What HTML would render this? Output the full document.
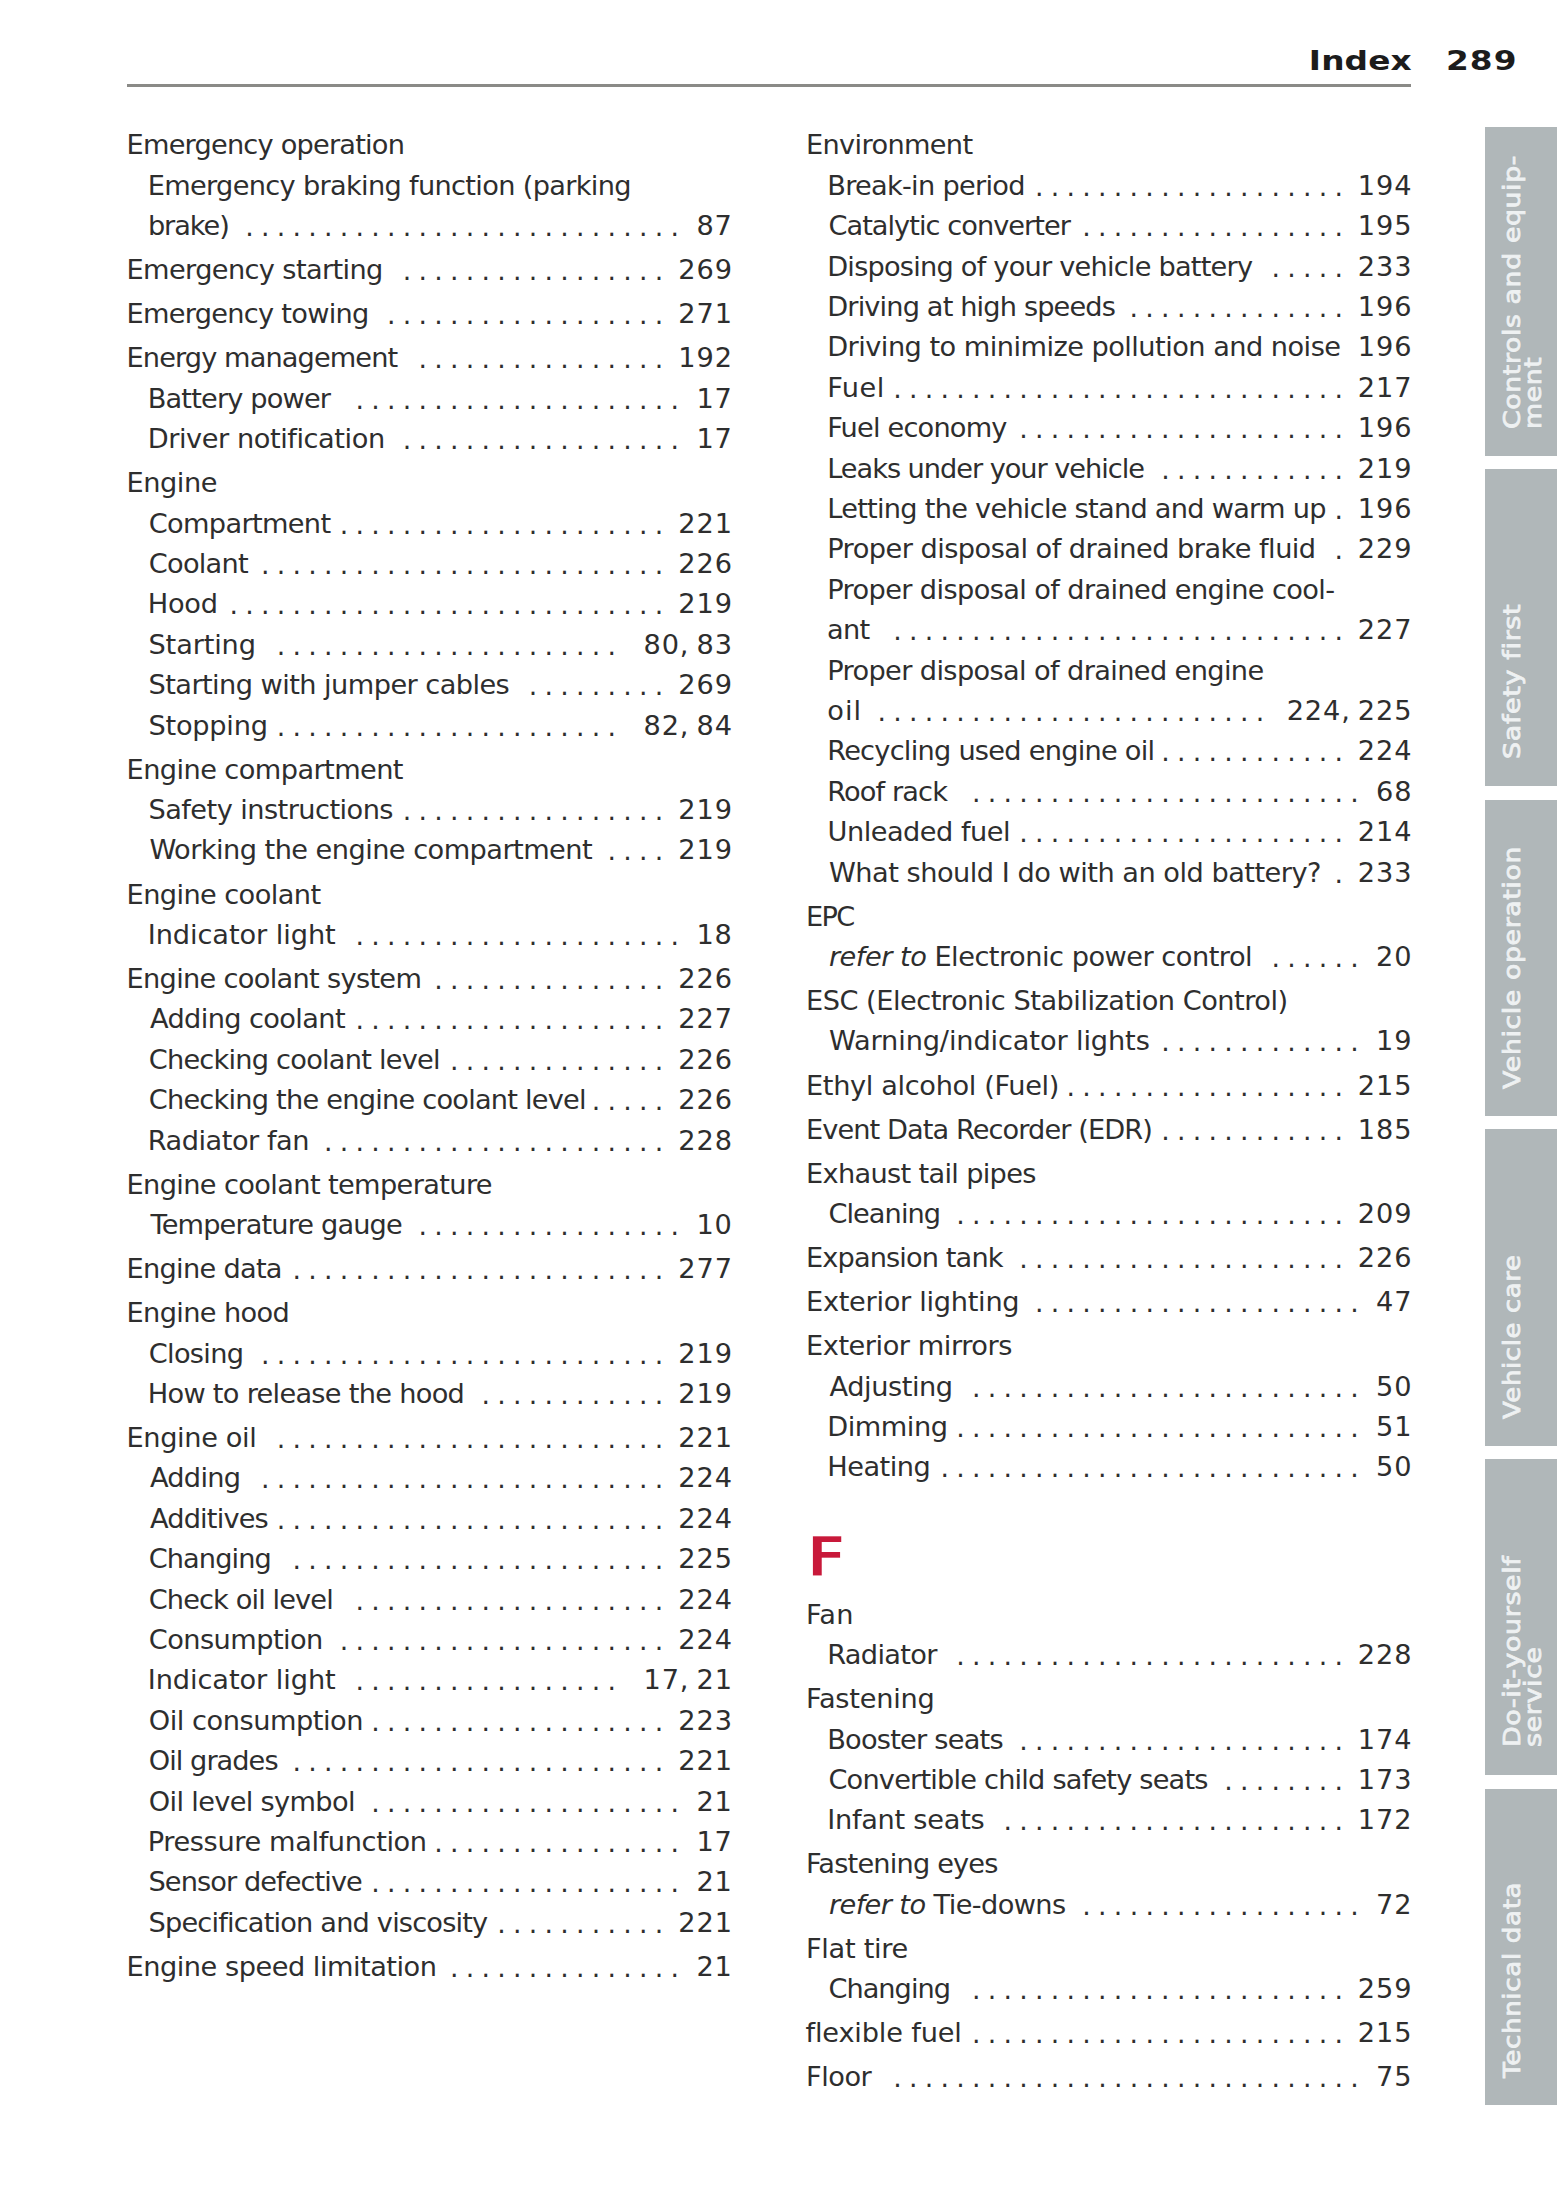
<!DOCTYPE html>
<html lang="en"><head><meta charset="utf-8"><title>Index 289</title>
<style>
html,body{margin:0;padding:0;background:#fff}
body{width:1557px;height:2208px;position:relative;overflow:hidden;font-family:"DejaVu Sans","Liberation Sans",sans-serif;color:#2e2e2e}
.r{position:absolute;height:40px;line-height:40px;font-size:27.2px;white-space:nowrap}
.l{display:inline-block}
.l i{font-style:italic}
.d{position:absolute;top:1px;letter-spacing:-0.625px;font-size:26.75px;-webkit-text-stroke:0}
.n{position:absolute;top:0;right:-2.85px;letter-spacing:0.9px;word-spacing:-2.5px}
.h{position:absolute;font-weight:bold;font-size:57px;line-height:60px;color:#c8193a;-webkit-text-stroke:2.4px #fff}
.hd{position:absolute;font-weight:bold;font-size:27.3px;line-height:34px;white-space:nowrap;color:#1c1c1c}
.rule{position:absolute;left:127px;top:84px;width:1284px;height:3px;background:#8a8a87}
.tab{position:absolute;left:1484.8px;width:73px;background:#b0b7b9}
.tt{position:absolute;transform-origin:0 0;transform:rotate(-90deg) scaleX(1.15);white-space:nowrap;font-size:23.4px;line-height:20.7px;color:#eef1f2;-webkit-text-stroke:0.8px #eef1f2;letter-spacing:0.55px}
</style></head><body>
<div class="hd" id="hidx" style="right:145.5px;top:43.7px;transform-origin:100% 50%;transform:scaleX(1.2);letter-spacing:0.1px">Index</div>
<div class="hd" id="hnum" style="left:1445.5px;top:43.7px;transform-origin:0 50%;transform:scaleX(1.2);letter-spacing:0.9px">289</div>
<div class="rule"></div>
<div class="tab" style="top:127.0px;height:329.0px"></div>
<div class="tt" style="left:1502.3px;top:428.8px;transform:rotate(-90deg) scaleX(1.142)">Controls and equip-<br>ment</div>
<div class="tab" style="top:469.0px;height:317.0px"></div>
<div class="tt" style="left:1502.3px;top:758.9px;transform:rotate(-90deg) scaleX(1.154)">Safety first</div>
<div class="tab" style="top:800.0px;height:315.5px"></div>
<div class="tt" style="left:1502.3px;top:1088.9px;transform:rotate(-90deg) scaleX(1.142)">Vehicle operation</div>
<div class="tab" style="top:1129.0px;height:316.5px"></div>
<div class="tt" style="left:1502.3px;top:1418.8px;transform:rotate(-90deg) scaleX(1.109)">Vehicle care</div>
<div class="tab" style="top:1459.0px;height:316.0px"></div>
<div class="tt" style="left:1502.3px;top:1747.0px;transform:rotate(-90deg) scaleX(1.15)">Do-it-yourself<br>service</div>
<div class="tab" style="top:1789.0px;height:316.0px"></div>
<div class="tt" style="left:1502.3px;top:2077.9px;transform:rotate(-90deg) scaleX(1.12)">Technical data</div>
<div class="r" style="left:126.2px;top:125.35px;width:603.8px"><span class="l" id="L0" style="letter-spacing:-0.787px;margin-left:0.36px">Emergency operation</span></div>
<div class="r" style="left:147.4px;top:165.75px;width:582.6px"><span class="l" id="L1" style="letter-spacing:-0.675px;margin-left:0.34px">Emergency braking function (parking</span></div>
<div class="r" style="left:147.4px;top:206.15px;width:582.6px"><span class="l" id="L2" style="letter-spacing:-1.044px;margin-left:0.50px">brake)</span><span class="d" style="right:51.49px">. . . . . . . . . . . . . . . . . . . . . . . . . . . .</span><span class="n">87</span></div>
<div class="r" style="left:126.2px;top:250.21px;width:603.8px"><span class="l" id="L3" style="letter-spacing:-0.619px;margin-left:0.36px">Emergency starting</span><span class="d" style="right:67.25px">. . . . . . . . . . . . . . . . .</span><span class="n">269</span></div>
<div class="r" style="left:126.2px;top:294.27px;width:603.8px"><span class="l" id="L4" style="letter-spacing:-0.720px;margin-left:0.36px">Emergency towing</span><span class="d" style="right:67.25px">. . . . . . . . . . . . . . . . . .</span><span class="n">271</span></div>
<div class="r" style="left:126.2px;top:338.33px;width:603.8px"><span class="l" id="L5" style="letter-spacing:-0.895px;margin-left:0.36px">Energy management</span><span class="d" style="right:67.25px">. . . . . . . . . . . . . . . .</span><span class="n">192</span></div>
<div class="r" style="left:147.4px;top:378.73px;width:582.6px"><span class="l" id="L6" style="letter-spacing:-0.837px;margin-left:0.35px">Battery power</span><span class="d" style="right:51.49px">. . . . . . . . . . . . . . . . . . . . .</span><span class="n">17</span></div>
<div class="r" style="left:147.4px;top:419.13px;width:582.6px"><span class="l" id="L7" style="letter-spacing:-0.434px;margin-left:0.35px">Driver notification</span><span class="d" style="right:51.49px">. . . . . . . . . . . . . . . . . .</span><span class="n">17</span></div>
<div class="r" style="left:126.2px;top:463.19px;width:603.8px"><span class="l" id="L8" style="letter-spacing:-0.450px;margin-left:0.36px">Engine</span></div>
<div class="r" style="left:147.4px;top:503.59px;width:582.6px"><span class="l" id="L9" style="letter-spacing:-0.660px;margin-left:1.32px">Compartment</span><span class="d" style="right:67.25px">. . . . . . . . . . . . . . . . . . . . .</span><span class="n">221</span></div>
<div class="r" style="left:147.4px;top:543.99px;width:582.6px"><span class="l" id="L10" style="letter-spacing:-0.721px;margin-left:1.32px">Coolant</span><span class="d" style="right:67.25px">. . . . . . . . . . . . . . . . . . . . . . . . . .</span><span class="n">226</span></div>
<div class="r" style="left:147.4px;top:584.39px;width:582.6px"><span class="l" id="L11" style="letter-spacing:-0.231px;margin-left:0.34px">Hood</span><span class="d" style="right:67.25px">. . . . . . . . . . . . . . . . . . . . . . . . . . . .</span><span class="n">219</span></div>
<div class="r" style="left:147.4px;top:624.79px;width:582.6px"><span class="l" id="L12" style="letter-spacing:-0.145px;margin-left:1.11px">Starting</span><span class="d" style="right:114.53px">. . . . . . . . . . . . . . . . . . . . . .</span><span class="n">80, 83</span></div>
<div class="r" style="left:147.4px;top:665.19px;width:582.6px"><span class="l" id="L13" style="letter-spacing:-0.559px;margin-left:1.11px">Starting with jumper cables</span><span class="d" style="right:67.25px">. . . . . . . . .</span><span class="n">269</span></div>
<div class="r" style="left:147.4px;top:705.59px;width:582.6px"><span class="l" id="L14" style="letter-spacing:-0.239px;margin-left:1.11px">Stopping</span><span class="d" style="right:114.53px">. . . . . . . . . . . . . . . . . . . . . .</span><span class="n">82, 84</span></div>
<div class="r" style="left:126.2px;top:749.65px;width:603.8px"><span class="l" id="L15" style="letter-spacing:-0.574px;margin-left:0.36px">Engine compartment</span></div>
<div class="r" style="left:147.4px;top:790.05px;width:582.6px"><span class="l" id="L16" style="letter-spacing:-0.546px;margin-left:1.11px">Safety instructions</span><span class="d" style="right:67.25px">. . . . . . . . . . . . . . . . .</span><span class="n">219</span></div>
<div class="r" style="left:147.4px;top:830.45px;width:582.6px"><span class="l" id="L17" style="letter-spacing:-0.547px;margin-left:1.99px">Working the engine compartment</span><span class="d" style="right:67.25px">. . . .</span><span class="n">219</span></div>
<div class="r" style="left:126.2px;top:874.51px;width:603.8px"><span class="l" id="L18" style="letter-spacing:-0.587px;margin-left:0.36px">Engine coolant</span></div>
<div class="r" style="left:147.4px;top:914.91px;width:582.6px"><span class="l" id="L19" style="letter-spacing:-0.071px;margin-left:0.31px">Indicator light</span><span class="d" style="right:51.49px">. . . . . . . . . . . . . . . . . . . . .</span><span class="n">18</span></div>
<div class="r" style="left:126.2px;top:958.97px;width:603.8px"><span class="l" id="L20" style="letter-spacing:-0.687px;margin-left:0.36px">Engine coolant system</span><span class="d" style="right:67.25px">. . . . . . . . . . . . . . .</span><span class="n">226</span></div>
<div class="r" style="left:147.4px;top:999.37px;width:582.6px"><span class="l" id="L21" style="letter-spacing:-0.608px;margin-left:2.49px">Adding coolant</span><span class="d" style="right:67.25px">. . . . . . . . . . . . . . . . . . . .</span><span class="n">227</span></div>
<div class="r" style="left:147.4px;top:1039.77px;width:582.6px"><span class="l" id="L22" style="letter-spacing:-0.770px;margin-left:1.32px">Checking coolant level</span><span class="d" style="right:67.25px">. . . . . . . . . . . . . .</span><span class="n">226</span></div>
<div class="r" style="left:147.4px;top:1080.17px;width:582.6px"><span class="l" id="L23" style="letter-spacing:-0.770px;margin-left:1.32px">Checking the engine coolant level</span><span class="d" style="right:67.25px">. . . . .</span><span class="n">226</span></div>
<div class="r" style="left:147.4px;top:1120.57px;width:582.6px"><span class="l" id="L24" style="letter-spacing:-0.478px;margin-left:0.35px">Radiator fan</span><span class="d" style="right:67.25px">. . . . . . . . . . . . . . . . . . . . . .</span><span class="n">228</span></div>
<div class="r" style="left:126.2px;top:1164.63px;width:603.8px"><span class="l" id="L25" style="letter-spacing:-0.625px;margin-left:0.36px">Engine coolant temperature</span></div>
<div class="r" style="left:147.4px;top:1205.03px;width:582.6px"><span class="l" id="L26" style="letter-spacing:-0.867px;margin-left:3.17px">Temperature gauge</span><span class="d" style="right:51.49px">. . . . . . . . . . . . . . . . .</span><span class="n">10</span></div>
<div class="r" style="left:126.2px;top:1249.09px;width:603.8px"><span class="l" id="L27" style="letter-spacing:-0.708px;margin-left:0.36px">Engine data</span><span class="d" style="right:67.25px">. . . . . . . . . . . . . . . . . . . . . . . .</span><span class="n">277</span></div>
<div class="r" style="left:126.2px;top:1293.15px;width:603.8px"><span class="l" id="L28" style="letter-spacing:-0.641px;margin-left:0.36px">Engine hood</span></div>
<div class="r" style="left:147.4px;top:1333.55px;width:582.6px"><span class="l" id="L29" style="letter-spacing:-0.677px;margin-left:1.32px">Closing</span><span class="d" style="right:67.25px">. . . . . . . . . . . . . . . . . . . . . . . . . .</span><span class="n">219</span></div>
<div class="r" style="left:147.4px;top:1373.95px;width:582.6px"><span class="l" id="L30" style="letter-spacing:-0.707px;margin-left:0.34px">How to release the hood</span><span class="d" style="right:67.25px">. . . . . . . . . . . .</span><span class="n">219</span></div>
<div class="r" style="left:126.2px;top:1418.01px;width:603.8px"><span class="l" id="L31" style="letter-spacing:-0.371px;margin-left:0.36px">Engine oil</span><span class="d" style="right:67.25px">. . . . . . . . . . . . . . . . . . . . . . . . .</span><span class="n">221</span></div>
<div class="r" style="left:147.4px;top:1458.41px;width:582.6px"><span class="l" id="L32" style="letter-spacing:-0.701px;margin-left:2.49px">Adding</span><span class="d" style="right:67.25px">. . . . . . . . . . . . . . . . . . . . . . . . . .</span><span class="n">224</span></div>
<div class="r" style="left:147.4px;top:1498.81px;width:582.6px"><span class="l" id="L33" style="letter-spacing:-0.814px;margin-left:2.49px">Additives</span><span class="d" style="right:67.25px">. . . . . . . . . . . . . . . . . . . . . . . . .</span><span class="n">224</span></div>
<div class="r" style="left:147.4px;top:1539.21px;width:582.6px"><span class="l" id="L34" style="letter-spacing:-0.904px;margin-left:1.32px">Changing</span><span class="d" style="right:67.25px">. . . . . . . . . . . . . . . . . . . . . . . .</span><span class="n">225</span></div>
<div class="r" style="left:147.4px;top:1579.61px;width:582.6px"><span class="l" id="L35" style="letter-spacing:-0.877px;margin-left:1.32px">Check oil level</span><span class="d" style="right:67.25px">. . . . . . . . . . . . . . . . . . . .</span><span class="n">224</span></div>
<div class="r" style="left:147.4px;top:1620.01px;width:582.6px"><span class="l" id="L36" style="letter-spacing:-0.542px;margin-left:1.32px">Consumption</span><span class="d" style="right:67.25px">. . . . . . . . . . . . . . . . . . . . .</span><span class="n">224</span></div>
<div class="r" style="left:147.4px;top:1660.41px;width:582.6px"><span class="l" id="L37" style="letter-spacing:-0.071px;margin-left:0.31px">Indicator light</span><span class="d" style="right:114.53px">. . . . . . . . . . . . . . . . .</span><span class="n">17, 21</span></div>
<div class="r" style="left:147.4px;top:1700.81px;width:582.6px"><span class="l" id="L38" style="letter-spacing:-0.468px;margin-left:1.37px">Oil consumption</span><span class="d" style="right:67.25px">. . . . . . . . . . . . . . . . . . .</span><span class="n">223</span></div>
<div class="r" style="left:147.4px;top:1741.21px;width:582.6px"><span class="l" id="L39" style="letter-spacing:-0.954px;margin-left:1.37px">Oil grades</span><span class="d" style="right:67.25px">. . . . . . . . . . . . . . . . . . . . . . . .</span><span class="n">221</span></div>
<div class="r" style="left:147.4px;top:1781.61px;width:582.6px"><span class="l" id="L40" style="letter-spacing:-0.660px;margin-left:1.37px">Oil level symbol</span><span class="d" style="right:51.49px">. . . . . . . . . . . . . . . . . . . .</span><span class="n">21</span></div>
<div class="r" style="left:147.4px;top:1822.01px;width:582.6px"><span class="l" id="L41" style="letter-spacing:-0.376px;margin-left:0.35px">Pressure malfunction</span><span class="d" style="right:51.49px">. . . . . . . . . . . . . . . .</span><span class="n">17</span></div>
<div class="r" style="left:147.4px;top:1862.41px;width:582.6px"><span class="l" id="L42" style="letter-spacing:-0.918px;margin-left:1.11px">Sensor defective</span><span class="d" style="right:51.49px">. . . . . . . . . . . . . . . . . . . .</span><span class="n">21</span></div>
<div class="r" style="left:147.4px;top:1902.81px;width:582.6px"><span class="l" id="L43" style="letter-spacing:-0.813px;margin-left:1.11px">Specification and viscosity</span><span class="d" style="right:67.25px">. . . . . . . . . . .</span><span class="n">221</span></div>
<div class="r" style="left:126.2px;top:1946.87px;width:603.8px"><span class="l" id="L44" style="letter-spacing:-0.486px;margin-left:0.36px">Engine speed limitation</span><span class="d" style="right:51.49px">. . . . . . . . . . . . . . .</span><span class="n">21</span></div>
<div class="r" style="left:805.5px;top:125.35px;width:604.1px"><span class="l" id="R0" style="letter-spacing:-0.650px;margin-left:0.53px">Environment</span></div>
<div class="r" style="left:826.7px;top:165.75px;width:582.9px"><span class="l" id="R1" style="letter-spacing:-0.714px;margin-left:0.54px">Break-in period</span><span class="d" style="right:67.25px">. . . . . . . . . . . . . . . . . . . .</span><span class="n">194</span></div>
<div class="r" style="left:826.7px;top:206.15px;width:582.9px"><span class="l" id="R2" style="letter-spacing:-0.960px;margin-left:1.72px">Catalytic converter</span><span class="d" style="right:67.25px">. . . . . . . . . . . . . . . . .</span><span class="n">195</span></div>
<div class="r" style="left:826.7px;top:246.55px;width:582.9px"><span class="l" id="R3" style="letter-spacing:-0.779px;margin-left:0.54px">Disposing of your vehicle battery</span><span class="d" style="right:67.25px">. . . . .</span><span class="n">233</span></div>
<div class="r" style="left:826.7px;top:286.95px;width:582.9px"><span class="l" id="R4" style="letter-spacing:-0.853px;margin-left:0.54px">Driving at high speeds</span><span class="d" style="right:67.25px">. . . . . . . . . . . . . .</span><span class="n">196</span></div>
<div class="r" style="left:826.7px;top:327.35px;width:582.9px"><span class="l" id="R5" style="letter-spacing:-0.530px;margin-left:0.54px">Driving to minimize pollution and noise</span><span class="n">196</span></div>
<div class="r" style="left:826.7px;top:367.75px;width:582.9px"><span class="l" id="R6" style="letter-spacing:0.435px;margin-left:0.54px">Fuel</span><span class="d" style="right:67.25px">. . . . . . . . . . . . . . . . . . . . . . . . . . . . .</span><span class="n">217</span></div>
<div class="r" style="left:826.7px;top:408.15px;width:582.9px"><span class="l" id="R7" style="letter-spacing:-0.806px;margin-left:0.54px">Fuel economy</span><span class="d" style="right:67.25px">. . . . . . . . . . . . . . . . . . . . .</span><span class="n">196</span></div>
<div class="r" style="left:826.7px;top:448.55px;width:582.9px"><span class="l" id="R8" style="letter-spacing:-1.035px;margin-left:0.54px">Leaks under your vehicle</span><span class="d" style="right:67.25px">. . . . . . . . . . . .</span><span class="n">219</span></div>
<div class="r" style="left:826.7px;top:488.95px;width:582.9px"><span class="l" id="R9" style="letter-spacing:-0.737px;margin-left:0.54px">Letting the vehicle stand and warm up</span><span class="d" style="right:67.25px">.</span><span class="n">196</span></div>
<div class="r" style="left:826.7px;top:529.35px;width:582.9px"><span class="l" id="R10" style="letter-spacing:-0.532px;margin-left:0.54px">Proper disposal of drained brake fluid</span><span class="d" style="right:67.25px">.</span><span class="n">229</span></div>
<div class="r" style="left:826.7px;top:569.75px;width:582.9px"><span class="l" id="R11" style="letter-spacing:-0.612px;margin-left:0.54px">Proper disposal of drained engine cool-</span></div>
<div class="r" style="left:826.7px;top:610.15px;width:582.9px"><span class="l" id="R12" style="letter-spacing:-0.601px;margin-left:0.19px">ant</span><span class="d" style="right:67.25px">. . . . . . . . . . . . . . . . . . . . . . . . . . . . .</span><span class="n">227</span></div>
<div class="r" style="left:826.7px;top:650.55px;width:582.9px"><span class="l" id="R13" style="letter-spacing:-0.623px;margin-left:0.54px">Proper disposal of drained engine</span></div>
<div class="r" style="left:826.7px;top:690.95px;width:582.9px"><span class="l" id="R14" style="letter-spacing:1.057px;margin-left:0.50px">oil</span><span class="d" style="right:146.05px">. . . . . . . . . . . . . . . . . . . . . . . . .</span><span class="n">224, 225</span></div>
<div class="r" style="left:826.7px;top:731.35px;width:582.9px"><span class="l" id="R15" style="letter-spacing:-0.746px;margin-left:0.54px">Recycling used engine oil</span><span class="d" style="right:67.25px">. . . . . . . . . . . .</span><span class="n">224</span></div>
<div class="r" style="left:826.7px;top:771.75px;width:582.9px"><span class="l" id="R16" style="letter-spacing:-0.870px;margin-left:0.54px">Roof rack</span><span class="d" style="right:51.49px">. . . . . . . . . . . . . . . . . . . . . . . . .</span><span class="n">68</span></div>
<div class="r" style="left:826.7px;top:812.15px;width:582.9px"><span class="l" id="R17" style="letter-spacing:-0.514px;margin-left:0.92px">Unleaded fuel</span><span class="d" style="right:67.25px">. . . . . . . . . . . . . . . . . . . . .</span><span class="n">214</span></div>
<div class="r" style="left:826.7px;top:852.55px;width:582.9px"><span class="l" id="R18" style="letter-spacing:-0.500px;margin-left:2.28px">What should I do with an old battery?</span><span class="d" style="right:67.25px">.</span><span class="n">233</span></div>
<div class="r" style="left:805.5px;top:896.61px;width:604.1px"><span class="l" id="R19" style="letter-spacing:-1.624px;margin-left:0.53px">EPC</span></div>
<div class="r" style="left:826.7px;top:937.01px;width:582.9px"><span class="l" id="R20" style="letter-spacing:-0.495px;margin-left:2.24px"><i>refer to</i> Electronic power control</span><span class="d" style="right:51.49px">. . . . . .</span><span class="n">20</span></div>
<div class="r" style="left:805.5px;top:981.07px;width:604.1px"><span class="l" id="R21" style="letter-spacing:-0.492px;margin-left:0.53px">ESC (Electronic Stabilization Control)</span></div>
<div class="r" style="left:826.7px;top:1021.47px;width:582.9px"><span class="l" id="R22" style="letter-spacing:-0.123px;margin-left:2.28px">Warning/indicator lights</span><span class="d" style="right:51.49px">. . . . . . . . . . . . .</span><span class="n">19</span></div>
<div class="r" style="left:805.5px;top:1065.53px;width:604.1px"><span class="l" id="R23" style="letter-spacing:-0.353px;margin-left:0.53px">Ethyl alcohol (Fuel)</span><span class="d" style="right:67.25px">. . . . . . . . . . . . . . . . . .</span><span class="n">215</span></div>
<div class="r" style="left:805.5px;top:1109.59px;width:604.1px"><span class="l" id="R24" style="letter-spacing:-0.917px;margin-left:0.53px">Event Data Recorder (EDR)</span><span class="d" style="right:67.25px">. . . . . . . . . . . .</span><span class="n">185</span></div>
<div class="r" style="left:805.5px;top:1153.65px;width:604.1px"><span class="l" id="R25" style="letter-spacing:-0.678px;margin-left:0.53px">Exhaust tail pipes</span></div>
<div class="r" style="left:826.7px;top:1194.05px;width:582.9px"><span class="l" id="R26" style="letter-spacing:-0.935px;margin-left:1.72px">Cleaning</span><span class="d" style="right:67.25px">. . . . . . . . . . . . . . . . . . . . . . . . .</span><span class="n">209</span></div>
<div class="r" style="left:805.5px;top:1238.11px;width:604.1px"><span class="l" id="R27" style="letter-spacing:-0.882px;margin-left:0.53px">Expansion tank</span><span class="d" style="right:67.25px">. . . . . . . . . . . . . . . . . . . . .</span><span class="n">226</span></div>
<div class="r" style="left:805.5px;top:1282.17px;width:604.1px"><span class="l" id="R28" style="letter-spacing:-0.285px;margin-left:0.53px">Exterior lighting</span><span class="d" style="right:51.49px">. . . . . . . . . . . . . . . . . . . . .</span><span class="n">47</span></div>
<div class="r" style="left:805.5px;top:1326.23px;width:604.1px"><span class="l" id="R29" style="letter-spacing:-0.452px;margin-left:0.53px">Exterior mirrors</span></div>
<div class="r" style="left:826.7px;top:1366.63px;width:582.9px"><span class="l" id="R30" style="letter-spacing:-0.446px;margin-left:2.91px">Adjusting</span><span class="d" style="right:51.49px">. . . . . . . . . . . . . . . . . . . . . . . . .</span><span class="n">50</span></div>
<div class="r" style="left:826.7px;top:1407.03px;width:582.9px"><span class="l" id="R31" style="letter-spacing:-0.470px;margin-left:0.54px">Dimming</span><span class="d" style="right:51.49px">. . . . . . . . . . . . . . . . . . . . . . . . . .</span><span class="n">51</span></div>
<div class="r" style="left:826.7px;top:1447.43px;width:582.9px"><span class="l" id="R32" style="letter-spacing:-0.489px;margin-left:0.54px">Heating</span><span class="d" style="right:51.49px">. . . . . . . . . . . . . . . . . . . . . . . . . . .</span><span class="n">50</span></div>
<div class="h" style="left:805.5px;top:1526.9px;transform-origin:0 50%;transform:scaleX(1.07)">F</div>
<div class="r" style="left:805.5px;top:1594.65px;width:604.1px"><span class="l" id="R34" style="letter-spacing:0.167px;margin-left:0.53px">Fan</span></div>
<div class="r" style="left:826.7px;top:1635.05px;width:582.9px"><span class="l" id="R35" style="letter-spacing:-0.667px;margin-left:0.54px">Radiator</span><span class="d" style="right:67.25px">. . . . . . . . . . . . . . . . . . . . . . . . .</span><span class="n">228</span></div>
<div class="r" style="left:805.5px;top:1679.11px;width:604.1px"><span class="l" id="R36" style="letter-spacing:-0.236px;margin-left:0.53px">Fastening</span></div>
<div class="r" style="left:826.7px;top:1719.51px;width:582.9px"><span class="l" id="R37" style="letter-spacing:-0.770px;margin-left:0.54px">Booster seats</span><span class="d" style="right:67.25px">. . . . . . . . . . . . . . . . . . . . .</span><span class="n">174</span></div>
<div class="r" style="left:826.7px;top:1759.91px;width:582.9px"><span class="l" id="R38" style="letter-spacing:-0.801px;margin-left:1.72px">Convertible child safety seats</span><span class="d" style="right:67.25px">. . . . . . . .</span><span class="n">173</span></div>
<div class="r" style="left:826.7px;top:1800.31px;width:582.9px"><span class="l" id="R39" style="letter-spacing:-0.261px;margin-left:0.50px">Infant seats</span><span class="d" style="right:67.25px">. . . . . . . . . . . . . . . . . . . . . .</span><span class="n">172</span></div>
<div class="r" style="left:805.5px;top:1844.37px;width:604.1px"><span class="l" id="R40" style="letter-spacing:-0.811px;margin-left:0.53px">Fastening eyes</span></div>
<div class="r" style="left:826.7px;top:1884.77px;width:582.9px"><span class="l" id="R41" style="letter-spacing:-0.597px;margin-left:2.24px"><i>refer to</i> Tie-downs</span><span class="d" style="right:51.49px">. . . . . . . . . . . . . . . . . .</span><span class="n">72</span></div>
<div class="r" style="left:805.5px;top:1928.83px;width:604.1px"><span class="l" id="R42" style="letter-spacing:-0.303px;margin-left:0.53px">Flat tire</span></div>
<div class="r" style="left:826.7px;top:1969.23px;width:582.9px"><span class="l" id="R43" style="letter-spacing:-0.975px;margin-left:1.72px">Changing</span><span class="d" style="right:67.25px">. . . . . . . . . . . . . . . . . . . . . . . .</span><span class="n">259</span></div>
<div class="r" style="left:805.5px;top:2013.29px;width:604.1px"><span class="l" id="R44" style="letter-spacing:-0.157px;margin-left:0.02px">flexible fuel</span><span class="d" style="right:67.25px">. . . . . . . . . . . . . . . . . . . . . . . .</span><span class="n">215</span></div>
<div class="r" style="left:805.5px;top:2057.35px;width:604.1px"><span class="l" id="R45" style="letter-spacing:-0.475px;margin-left:0.53px">Floor</span><span class="d" style="right:51.49px">. . . . . . . . . . . . . . . . . . . . . . . . . . . . . .</span><span class="n">75</span></div>
</body></html>
